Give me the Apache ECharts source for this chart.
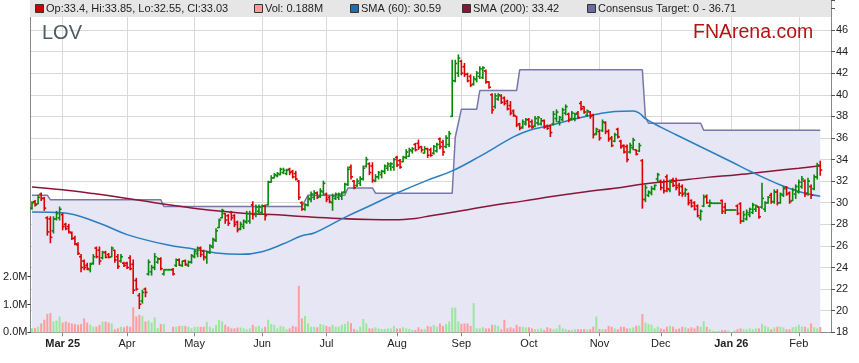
<!DOCTYPE html>
<html><head><meta charset="utf-8">
<script src="https://cdn.jsdelivr.net/npm/echarts@6/dist/echarts.min.js"></script>
<style>html,body{margin:0;padding:0;background:#fff}#c{width:859px;height:363px}</style>
</head><body><div id="c"></div><script>
// ---------- DATA ----------
const firstDate = [2025, 1, 17];           // 17 Feb 2025 (weekday series)
const padDays = 3;                          // empty slots to the right of the last bar
const opens = [29.5,30.1,29.9,30.8,30.4,28.6,28.5,27.4,28.5,28.6,28.9,28.0,27.8,27.2,26.7,26.1,25.0,24.6,24.2,23.8,24.4,25.8,25.6,24.9,25.4,25.2,25.0,25.6,25.0,24.6,24.4,24.4,24.9,24.3,22.8,21.4,20.9,22.0,23.4,23.6,24.0,24.5,24.8,23.4,23.8,23.8,23.8,24.2,24.7,24.2,24.6,24.2,24.5,25.0,25.3,25.8,25.5,24.9,25.4,25.9,26.5,27.7,28.6,29.0,28.8,29.1,28.8,28.2,27.6,27.8,28.2,28.3,29.8,29.0,29.2,29.1,29.7,29.8,31.9,32.3,32.5,32.6,32.8,32.7,33.1,32.9,32.7,32.0,30.0,29.4,29.8,30.3,30.5,30.9,30.6,31.0,30.8,30.5,30.0,30.4,30.5,30.6,31.0,31.7,33.3,32.0,31.6,31.8,32.2,33.4,33.6,33.4,32.0,32.4,32.6,32.9,33.2,33.4,33.3,34.2,33.9,33.8,34.2,34.3,34.8,35.4,35.5,35.2,34.6,35.0,34.9,34.6,34.8,35.9,35.6,35.2,35.4,38.0,41.3,42.0,43.1,42.6,41.9,41.7,41.0,41.4,41.7,41.6,42.2,41.2,40.0,38.9,39.6,39.9,39.7,39.4,39.0,38.5,38.0,37.3,37.0,37.3,37.7,37.5,37.1,37.4,37.3,37.6,37.1,37.1,37.3,37.8,37.5,37.7,38.3,38.2,37.8,37.8,38.3,39.2,38.9,38.1,38.4,38.1,36.4,36.6,36.7,37.4,36.6,36.0,35.7,36.8,35.7,35.3,35.2,34.7,35.1,34.9,34.8,33.9,30.3,30.7,30.9,31.3,32.2,32.0,31.9,32.4,31.2,32.1,32.0,31.6,31.5,30.9,30.8,30.2,30.0,29.7,28.6,29.7,30.6,29.7,29.95,29.95,29.95,30.2,29.6,29.33,29.33,29.33,29.7,29.9,28.3,28.5,28.9,29.1,29.4,29.6,29.6,29.4,30.0,30.7,30.1,31.0,30.0,30.7,31.4,30.9,30.2,30.8,31.0,31.5,32.0,30.9,31.5,31.3,32.4,33.4];
const highs = [30.1,30.2,30.7,30.9,30.5,28.7,28.7,28.7,29.2,29.6,29.0,28.1,28.0,27.3,26.9,26.3,25.2,24.7,24.4,24.4,25.2,25.9,25.9,25.5,25.5,25.3,25.9,25.6,25.2,25.2,24.5,24.5,25.1,24.7,23.0,21.6,21.9,22.1,24.7,24.2,25.3,24.9,24.9,23.8,23.8,23.8,23.9,24.8,24.8,24.6,24.7,24.6,25.2,25.6,25.9,25.9,25.6,25.5,26.1,26.7,27.6,28.5,29.4,29.0,28.9,29.2,28.9,28.3,28.2,28.4,29.2,29.2,30.1,29.8,29.8,29.8,29.8,32.0,32.5,32.7,32.8,33.2,33.2,33.1,33.2,33.0,32.9,32.05,30.1,29.9,30.6,31.0,31.1,31.0,31.3,32.0,30.9,30.6,30.8,30.9,30.9,31.0,31.8,33.3,33.5,32.05,32.2,32.4,33.4,34.2,33.7,33.7,32.6,32.9,33.0,33.5,33.7,33.7,34.1,34.3,34.0,34.3,34.9,35.05,35.1,35.5,35.8,35.2,35.2,35.05,35.05,35.3,35.5,36.0,35.8,36.2,36.6,43.2,43.2,43.7,43.2,42.9,42.0,41.85,41.7,42.15,42.6,42.6,42.3,41.2,40.1,40.1,40.1,40.0,39.8,39.5,39.37,38.6,38.0,37.36,37.67,37.8,37.8,37.67,38.0,38.0,37.8,37.67,37.2,37.2,38.45,38.6,38.0,38.75,39.06,38.3,38.45,38.3,38.45,39.37,38.9,38.6,38.45,38.2,36.9,36.75,37.67,37.5,36.75,36.13,36.44,36.9,35.8,35.36,35.36,35.5,35.97,34.9,35.5,34.0,31.65,31.1,31.5,31.65,32.73,32.1,32.1,32.58,32.1,32.27,32.27,31.8,31.65,31.34,30.9,30.26,30.1,29.8,29.33,30.72,30.72,30.26,29.95,29.95,29.95,30.26,29.95,29.33,29.33,29.33,29.8,30.0,29.2,29.33,29.5,29.95,29.8,29.64,31.8,30.1,30.57,30.88,31.2,31.2,30.9,31.5,31.5,31.0,31.34,31.65,32.1,32.42,32.1,32.27,31.65,32.58,33.66,33.85];
const lows = [29.4,29.7,29.9,30.2,29.3,27.0,26.3,27.2,28.4,28.4,27.5,27.5,27.2,26.6,26.1,25.2,23.6,23.8,23.8,23.6,24.3,24.9,24.3,24.8,24.9,24.9,25.0,24.5,23.9,24.5,24.1,23.9,23.8,21.6,21.9,20.2,20.7,21.3,23.3,23.3,23.8,24.4,23.8,23.3,23.8,23.8,23.3,24.1,24.2,24.1,24.2,24.1,24.4,24.9,25.0,25.0,24.7,24.4,25.3,25.8,26.4,27.7,28.6,28.1,27.9,28.4,27.8,27.3,27.5,27.6,28.1,28.1,28.5,28.7,29.0,28.9,28.4,29.8,31.9,32.3,32.4,32.6,32.7,32.6,32.6,32.3,32.1,30.3,29.3,29.3,29.7,30.1,30.3,30.4,30.5,30.7,30.1,30.0,29.3,30.3,30.3,30.3,30.9,31.6,32.2,31.3,31.5,31.6,32.1,33.3,32.6,31.9,31.95,32.2,32.3,32.7,33.0,33.0,33.0,33.35,33.2,33.8,34.1,34.3,34.6,34.8,34.95,34.7,34.6,34.2,34.3,34.5,34.7,35.0,34.4,35.1,35.2,38.0,41.2,41.7,41.85,41.7,41.2,40.76,40.9,41.2,41.5,41.5,41.07,40.6,38.3,38.75,39.5,39.2,39.06,38.6,38.14,38.0,37.05,36.75,36.9,37.2,37.0,36.9,37.05,37.2,37.2,36.9,36.8,36.13,37.2,37.5,37.2,37.6,38.14,37.5,37.67,37.6,37.8,38.6,38.3,38.0,37.83,36.0,36.3,35.8,36.6,36.4,35.7,35.2,35.66,36.0,35.05,34.6,33.8,34.6,34.9,34.43,34.74,29.5,30.1,30.57,30.73,31.2,31.9,31.2,30.9,31.03,31.03,31.5,31.2,30.7,30.6,30.6,29.8,29.6,29.33,28.7,28.4,29.64,29.95,29.64,29.95,29.95,29.95,29.0,29.0,29.33,29.33,29.33,28.9,28.1,28.25,28.4,28.7,29.0,29.2,28.56,29.5,29.2,29.95,29.95,29.95,29.8,29.95,30.57,30.7,29.95,30.2,30.4,30.9,31.34,30.57,30.7,30.4,31.2,32.2,32.55];
const closes = [30.0,29.8,30.5,30.4,29.5,27.3,26.8,28.5,29.0,29.4,27.8,27.6,27.3,26.7,26.2,25.3,24.0,24.0,23.9,24.3,25.0,25.0,24.6,25.4,24.95,24.95,25.8,24.7,24.1,25.0,24.2,24.0,23.9,21.9,22.0,20.6,21.7,21.7,24.5,24.0,25.0,24.8,23.9,23.8,23.8,23.8,23.4,24.7,24.2,24.6,24.3,24.5,25.1,25.5,25.8,25.2,25.0,25.4,26.0,26.6,27.4,28.4,29.3,28.4,28.1,28.6,28.0,27.5,28.0,28.3,29.0,29.0,28.9,29.6,29.6,29.7,28.8,31.9,32.3,32.6,32.7,33.1,33.0,33.0,32.8,32.4,32.2,30.5,29.4,29.8,30.4,30.8,30.9,30.5,31.1,31.8,30.3,30.1,30.6,30.8,30.8,30.9,31.7,33.1,32.4,31.4,32.0,32.2,33.2,34.0,32.8,32.1,32.4,32.8,32.9,33.4,33.6,33.6,34.0,33.5,33.3,34.2,34.7,34.9,35.0,34.9,35.1,34.9,35.0,34.4,34.4,35.2,35.4,35.2,34.7,36.0,36.4,41.3,42.9,43.4,42.0,41.9,41.3,40.9,41.5,42.0,42.4,42.5,41.2,40.7,38.6,39.9,40.0,39.3,39.2,38.7,38.3,38.1,37.2,36.9,37.5,37.7,37.1,37.0,37.8,37.9,37.6,37.0,36.9,36.5,38.2,38.4,37.9,38.6,38.9,37.7,38.3,38.2,37.9,38.7,38.4,38.5,38.0,36.3,36.8,36.0,37.5,36.6,35.9,35.3,36.3,36.1,35.2,34.7,34.0,35.3,35.8,34.5,35.3,30.3,31.4,31.0,31.3,31.6,32.6,31.4,31.1,31.3,31.9,31.6,31.4,30.9,30.8,31.2,30.0,29.7,29.4,28.8,29.2,30.5,30.0,30.0,29.95,29.95,29.95,29.2,29.3,29.33,29.33,29.33,29.0,28.3,28.9,29.1,29.4,29.8,29.7,28.7,30.4,30.0,30.5,30.1,31.0,30.0,30.8,31.3,30.8,30.1,31.2,31.5,31.9,32.2,30.8,32.0,30.7,32.4,33.5,33.03];
const volumesM = [0.15,0.15,0.2,0.32,0.45,0.66,0.69,0.39,0.42,0.57,0.35,0.39,0.35,0.32,0.30,0.27,0.30,0.50,0.35,0.27,0.20,0.20,0.27,0.39,0.39,0.35,0.32,0.11,0.14,0.20,0.18,0.23,0.20,0.90,0.57,0.63,0.59,0.39,0.42,0.35,0.54,0.15,0.30,0.30,0,0,0.20,0.20,0.23,0.23,0.23,0.20,0.14,0.20,0.20,0.20,0.20,0.38,0.20,0.14,0.27,0.45,0.39,0.27,0.20,0.14,0.14,0.17,0.17,0.14,0.11,0.14,0.27,0.20,0.23,0.14,0.20,0.45,0.30,0.27,0.14,0.23,0.20,0.11,0.14,0.23,0.20,1.67,0.50,0.59,0.32,0.20,0.20,0.18,0.30,0.27,0.23,0.20,0.27,0.20,0.20,0.27,0.30,0.39,0.33,0.12,0.08,0.20,0.48,0.32,0.14,0.14,0.18,0.14,0.12,0.12,0.14,0.14,0.23,0.14,0.14,0.18,0.14,0.12,0.08,0.08,0.18,0.11,0.11,0.23,0.20,0.27,0.20,0.32,0.23,0.30,0.39,0.89,0.89,0.39,0.30,0.32,0.32,0.23,1.05,0.14,0.14,0.18,0.14,0.14,0.27,0.27,0.23,0.11,0.45,0.14,0.18,0.14,0.27,0.20,0.20,0.18,0.18,0.14,0.11,0.11,0.14,0.08,0.18,0.14,0.11,0.14,0.27,0.14,0.11,0.08,0.08,0.11,0.11,0.11,0.12,0.10,0.11,0.20,0.57,0.12,0.11,0.11,0.23,0.20,0.14,0.11,0.20,0.20,0.14,0.14,0.18,0.24,0.24,0.66,0.35,0.30,0.27,0.14,0.20,0.14,0.11,0.20,0.23,0.20,0.11,0.14,0.20,0.18,0.14,0.18,0.14,0.23,0.20,0.40,0.20,0.11,0.05,0.04,0.05,0.08,0.08,0.06,0.0,0.06,0.11,0.14,0.11,0.11,0.14,0.11,0.14,0.14,0.30,0.23,0.18,0.11,0.18,0.20,0.20,0.18,0.11,0.11,0.18,0.20,0.27,0.20,0.20,0.14,0.32,0.18,0.14,0.188];
// SMA and consensus target: [bar index, value]
const sma60 = [[0,29.15],[10,29.08],[22,28.1],[31,27.05],[44,26.1],[53,25.7],[60,25.35],[68,25.22],[75,25.47],[82,26.2],[88,26.95],[92,27.2],[102,28.65],[110,29.7],[119,30.9],[129,32.1],[137,32.95],[146,34.3],[157,36.1],[162,36.7],[168,37.1],[179,37.9],[185,38.25],[190,38.45],[196,38.5],[198,38.3],[200,37.8],[205,37.0],[210,36.3],[219,35.05],[228,33.8],[235,32.8],[244,31.65],[250,31.05],[257,30.6]];
const sma200 = [[0,31.47],[10,31.2],[20,30.85],[30,30.45],[40,30.0],[50,29.6],[60,29.25],[70,29.0],[80,28.88],[90,28.7],[100,28.55],[110,28.45],[118,28.42],[125,28.55],[130,28.8],[140,29.25],[150,29.75],[160,30.15],[170,30.6],[180,31.0],[190,31.35],[200,31.75],[210,32.05],[220,32.35],[230,32.6],[240,32.9],[250,33.2],[257,33.42]];
const consensus = [[0,30.7],[5,30.7],[6,30.27],[42,30.27],[43,29.66],[88,29.66],[90,30.7],[102,30.7],[103,31.37],[111,31.37],[112,30.88],[137,30.88],[138,36.07],[140,38.67],[145,38.67],[146,40.39],[158,40.39],[159,42.31],[199,42.31],[200,37.9],[201,37.37],[218,37.37],[219,36.71],[257,36.71]];
const priceTicks = [18,20,22,24,26,28,30,32,34,36,38,40,42,44,46];
const volTicks = [0,1,2];
const monthNames = ['Jan','Feb','Mar','Apr','May','Jun','Jul','Aug','Sep','Oct','Nov','Dec'];
const legendItems = [
  {label:'Op:33.4, Hi:33.85, Lo:32.55, Cl:33.03', color:'#cc0000', x:35},
  {label:'Vol: 0.188M', color:'#ff9999', x:254},
  {label:'SMA (60): 30.59', color:'#1f6fb0', x:350},
  {label:'SMA (200): 33.42', color:'#8b1538', x:462},
  {label:'Consensus Target: 0 - 36.71', color:'#6a6a9c', x:587}
];

// ---------- categories: weekdays ----------
const dates = [];
{
  let d = new Date(Date.UTC(firstDate[0], firstDate[1], firstDate[2]));
  while (dates.length < opens.length + padDays) {
    const wd = d.getUTCDay();
    if (wd !== 0 && wd !== 6) dates.push(d.toISOString().slice(0,10));
    d = new Date(d.getTime() + 86400000);
  }
}
const isMonthStart = (idx) => idx > 0 && dates[idx].slice(5,7) !== dates[idx-1].slice(5,7);
let firstLabelIdx = null;
for (let i = 0; i < dates.length; i++) if (isMonthStart(i)) { firstLabelIdx = i; break; }
const fmtX = (value, idx) => {
  const m = +value.slice(5,7) - 1, y = value.slice(2,4);
  if (m === 0 || idx === firstLabelIdx) return '{b|' + monthNames[m] + ' ' + y + '}';
  return monthNames[m];
};
const tickFn = (idx) => isMonthStart(idx);

const UP = '#0a880a', DOWN = '#dd0000';
const ohlc = opens.map((o,i) => [i, o, highs[i], lows[i], closes[i]]);
const volData = volumesM.map((v,i) => ({value:[i, v], itemStyle:{color: closes[i] >= opens[i] ? '#9be89b' : '#ff9d9d'}}));

function renderOHLC(params, api) {
  const i = api.value(0);
  const o = api.coord([i, api.value(1)]);
  const h = api.coord([i, api.value(2)]);
  const l = api.coord([i, api.value(3)]);
  const c = api.coord([i, api.value(4)]);
  const col = api.value(4) >= api.value(1) ? UP : DOWN;
  const st = {stroke: col, lineWidth: 1.6};
  return {type:'group', children:[
    {type:'line', shape:{x1:h[0], y1:h[1]-0.5, x2:l[0], y2:l[1]+0.5}, style:st},
    {type:'line', shape:{x1:o[0]-2, y1:o[1], x2:o[0], y2:o[1]}, style:st},
    {type:'line', shape:{x1:c[0], y1:c[1], x2:c[0]+2, y2:c[1]}, style:st}
  ]};
}

const gridBottom = 363 - 332.3;
const FONT = '"Liberation Sans", Arial, sans-serif';
const graphics = [
  {type:'rect', shape:{x:30, y:0, width:801, height:17}, style:{fill:'#e6e6e6'}, z:100},
  {type:'text', style:{x:42, y:33, text:'LOV', font:'20px ' + FONT, fill:'#4f5a68', textVerticalAlign:'middle'}, z:100},
  {type:'text', style:{x:693, y:33, text:'FNArena.com', font:'19.5px ' + FONT, fill:'#b41414', textVerticalAlign:'middle'}, z:100}
];
legendItems.forEach(it => {
  graphics.push({type:'rect', shape:{x:it.x+0.5, y:4.5, width:8, height:8}, style:{fill:it.color, stroke:'#333', lineWidth:1}, z:101});
  graphics.push({type:'text', style:{x:it.x+11, y:9, text:it.label, font:'11px ' + FONT, fill:'#222', textVerticalAlign:'middle'}, z:101});
});

const chart = echarts.init(document.getElementById('c'));
chart.setOption({
  animation:false,
  backgroundColor:'#ffffff',
  grid:{left:30, right:28, top:0, bottom:gridBottom},
  xAxis:{
    type:'category', data:dates, boundaryGap:true,
    axisLine:{show:true, lineStyle:{color:'#888', width:1}},
    axisTick:{show:true, interval:tickFn, alignWithLabel:true, length:4, lineStyle:{color:'#888'}},
    axisLabel:{interval:tickFn, formatter:fmtX, color:'#222', fontSize:11, margin:6, fontFamily:FONT,
      rich:{b:{fontWeight:'bold', fontSize:11, color:'#222', fontFamily:FONT}}},
    splitLine:{show:true, interval:tickFn, alignWithLabel:true, lineStyle:{color:'#d9d9d9', width:1}}
  },
  yAxis:[
    {type:'value', position:'right', min:18, max:18 + 332.3/10.796, interval:2,
      axisLine:{show:true, lineStyle:{color:'#888'}},
      axisTick:{show:true, length:4, lineStyle:{color:'#555'}},
      axisLabel:{color:'#222', fontSize:11, margin:5, fontFamily:FONT,
        formatter:(v) => priceTicks.indexOf(Math.round(v*1000)/1000) >= 0 ? String(v) : ''},
      splitLine:{show:true, lineStyle:{color:'#d9d9d9', width:1}}},
    {type:'value', position:'left', min:0, max:332.3/27.8, interval:1,
      axisLine:{show:true, lineStyle:{color:'#888'}},
      axisTick:{show:true, length:3, customValues:volTicks, lineStyle:{color:'#333'}},
      axisLabel:{customValues:volTicks, color:'#222', fontSize:11, margin:3, fontFamily:FONT,
        formatter:(v) => v.toFixed(1) + 'M'},
      splitLine:{show:false}}
  ],
  series:[
    {name:'Consensus', type:'line', data:consensus, yAxisIndex:0, symbol:'none', z:1,
      lineStyle:{color:'#7878a8', width:1.5}, areaStyle:{color:'#e6e6f5', opacity:1, origin:'start'}},
    {name:'Vol', type:'bar', data:volData, yAxisIndex:1, barWidth:2, z:2},
    {name:'SMA200', type:'line', data:sma200, yAxisIndex:0, symbol:'none', smooth:0.4, z:3,
      lineStyle:{color:'#8b1538', width:1.5}},
    {name:'SMA60', type:'line', data:sma60, yAxisIndex:0, symbol:'none', smooth:0.4, z:3,
      lineStyle:{color:'#2a7fc0', width:1.5}},
    {name:'OHLC', type:'custom', renderItem:renderOHLC, data:ohlc, encode:{x:0, y:[1,2,3,4]}, z:4}
  ],
  graphic:graphics
});
</script></body></html>
